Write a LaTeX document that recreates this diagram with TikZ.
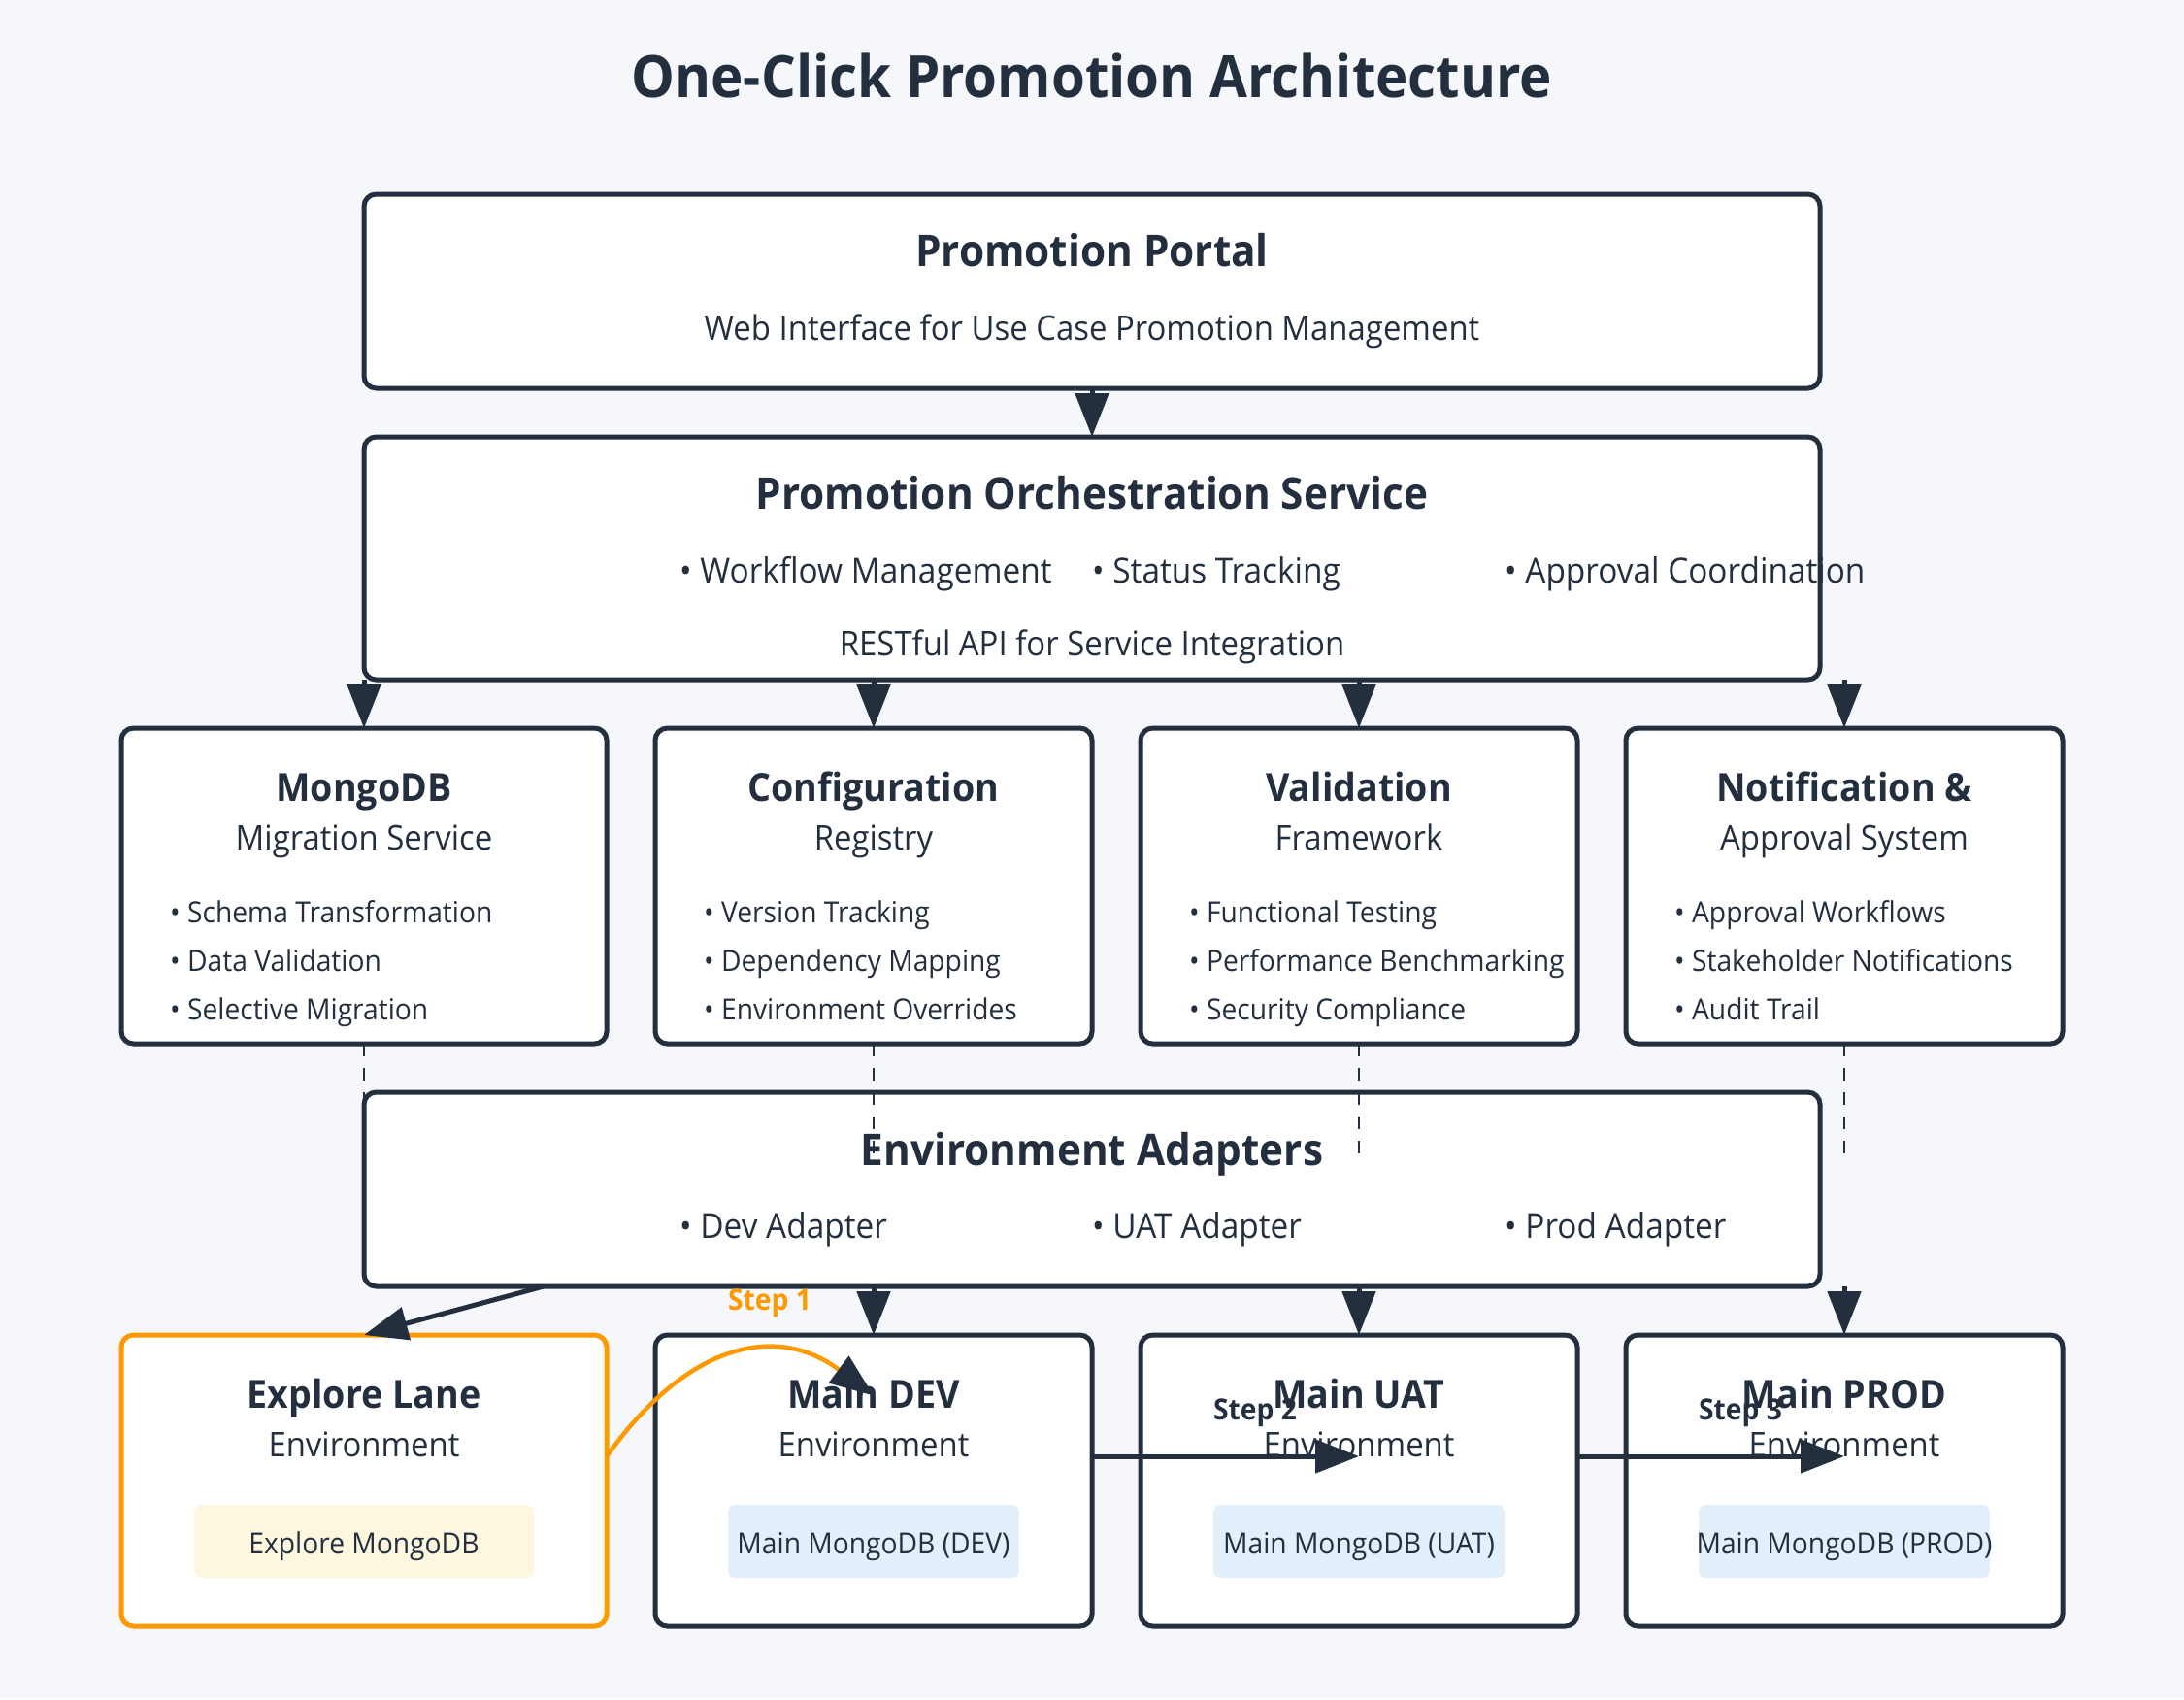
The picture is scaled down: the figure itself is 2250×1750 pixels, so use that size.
\documentclass[tikz,border=0pt]{standalone}
\usepackage{fontspec}
\setmainfont{Open Sans}[FakeStretch=0.94]
\usetikzlibrary{arrows.meta,calc}
\definecolor{bg}{HTML}{F5F7FA}
\definecolor{ink}{HTML}{232F3E}
\definecolor{aorange}{HTML}{FF9900}
\definecolor{pillY}{HTML}{FEF7E0}
\definecolor{pillB}{HTML}{E3F0FB}
\begin{document}
\begin{tikzpicture}[x=1pt,y=-1pt,
 box/.style={draw=ink, line width=5pt, fill=white, rounded corners=12.5pt, inner sep=0pt, outer sep=0pt},
 obox/.style={box, draw=aorange},
 pill/.style={rounded corners=7.5pt, inner sep=0pt, outer sep=0pt, minimum height=75pt},
 bigttl/.style={font=\fontsize{45}{54}\selectfont\bfseries, text=ink, anchor=base, inner sep=0pt},
 ttl/.style={font=\fontsize{40}{48}\selectfont\bfseries, text=ink, anchor=base, inner sep=0pt},
 sub/.style={font=\fontsize{35}{42}\selectfont, text=ink, anchor=base, inner sep=0pt},
 bul/.style={font=\fontsize{35.5}{42}\selectfont, text=ink, anchor=base west, inner sep=0pt},
 itm/.style={font=\fontsize{30}{36}\selectfont, text=ink, anchor=base west, inner sep=0pt},
 pilltxt/.style={font=\fontsize{30}{36}\selectfont, text=ink, anchor=base, inner sep=0pt},
 steplbl/.style={font=\fontsize{30}{36}\selectfont\bfseries, text=ink, anchor=base, inner sep=0pt},
 arr/.style={draw=ink, line width=5pt, -{Triangle[length=45pt,width=34pt]}},
 dsh/.style={draw=ink, line width=2.5pt, dash pattern=on 12.5pt off 12.5pt},
]
\fill[bg] (0,0) rectangle (2250,1750);
\useasboundingbox (0,0) rectangle (2250,1750);

% title
\node[font=\fontsize{60}{72}\selectfont\bfseries, text=ink, anchor=base, inner sep=0pt] (title) at (1125,101) {One-Click Promotion Architecture};

% portal
\node[box, minimum width=1500pt, minimum height=200pt] (portal) at (1125,300) {};
\node[bigttl] (portalT) at (1125,274) {Promotion Portal};
\node[sub] (portalS) at (1125,350) {Web Interface for Use Case Promotion Management};

% orchestration
\node[box, minimum width=1500pt, minimum height=250pt] (orch) at (1125,575) {};
\node[bigttl] (orchT) at (1125,524) {Promotion Orchestration Service};
\node[bul] (orchB1) at (700,600) {• Workflow Management};
\node[bul] (orchB2) at (1125,600) {• Status Tracking};
\node[bul] (orchB3) at (1550,600) {• Approval Coordination};
\node[sub] (orchS) at (1125,675) {RESTful API for Service Integration};

% layer 2
\node[box, minimum width=500pt, minimum height=325pt] (b1) at (375,912.5) {};
\node[box, minimum width=450pt, minimum height=325pt] (b2) at (900,912.5) {};
\node[box, minimum width=450pt, minimum height=325pt] (b3) at (1400,912.5) {};
\node[box, minimum width=450pt, minimum height=325pt] (b4) at (1900,912.5) {};

\node[ttl] (b1T) at (375,825) {MongoDB};
\node[sub] (b1S) at (375,875) {Migration Service};
\node[itm] (b1a) at (175,950) {• Schema Transformation};
\node[itm] (b1b) at (175,1000) {• Data Validation};
\node[itm] (b1c) at (175,1050) {• Selective Migration};

\node[ttl] (b2T) at (900,825) {Configuration};
\node[sub] (b2S) at (900,875) {Registry};
\node[itm] (b2a) at (725,950) {• Version Tracking};
\node[itm] (b2b) at (725,1000) {• Dependency Mapping};
\node[itm] (b2c) at (725,1050) {• Environment Overrides};

\node[ttl] (b3T) at (1400,825) {Validation};
\node[sub] (b3S) at (1400,875) {Framework};
\node[itm] (b3a) at (1225,950) {• Functional Testing};
\node[itm] (b3b) at (1225,1000) {• Performance Benchmarking};
\node[itm] (b3c) at (1225,1050) {• Security Compliance};

\node[ttl] (b4T) at (1900,825) {Notification \&};
\node[sub] (b4S) at (1900,875) {Approval System};
\node[itm] (b4a) at (1725,950) {• Approval Workflows};
\node[itm] (b4b) at (1725,1000) {• Stakeholder Notifications};
\node[itm] (b4c) at (1725,1050) {• Audit Trail};

% environment adapters
\node[box, minimum width=1500pt, minimum height=200pt] (env) at (1125,1225) {};
\node[bigttl] (envT) at (1125,1200) {Environment Adapters};
\node[bul] (envB1) at (700,1275) {• Dev Adapter};
\node[bul] (envB2) at (1125,1275) {• UAT Adapter};
\node[bul] (envB3) at (1550,1275) {• Prod Adapter};

% bottom environments
\node[obox, minimum width=500pt, minimum height=300pt] (e1) at (375,1525) {};
\node[box, minimum width=450pt, minimum height=300pt] (e2) at (900,1525) {};
\node[box, minimum width=450pt, minimum height=300pt] (e3) at (1400,1525) {};
\node[box, minimum width=450pt, minimum height=300pt] (e4) at (1900,1525) {};

\node[pill, fill=pillY, minimum width=350pt] (p1) at (375,1587.5) {};
\node[pill, fill=pillB, minimum width=300pt] (p2) at (900,1587.5) {};
\node[pill, fill=pillB, minimum width=300pt] (p3) at (1400,1587.5) {};
\node[pill, fill=pillB, minimum width=300pt] (p4) at (1900,1587.5) {};

\node[ttl] (e1T) at (375,1450) {Explore Lane};
\node[sub] (e1S) at (375,1500) {Environment};
\node[pilltxt] (p1T) at (375,1600) {Explore MongoDB};
\node[ttl] (e2T) at (900,1450) {Main DEV};
\node[sub] (e2S) at (900,1500) {Environment};
\node[pilltxt] (p2T) at (900,1600) {Main MongoDB (DEV)};
\node[ttl] (e3T) at (1400,1450) {Main UAT};
\node[sub] (e3S) at (1400,1500) {Environment};
\node[pilltxt] (p3T) at (1400,1600) {Main MongoDB (UAT)};
\node[ttl] (e4T) at (1900,1450) {Main PROD};
\node[sub] (e4S) at (1900,1500) {Environment};
\node[pilltxt] (p4T) at (1900,1600) {Main MongoDB (PROD)};

% arrows
\draw[arr] (portal.south) -- (orch.north);
\draw[arr] (orch.south -| b1.north) -- (b1.north);
\draw[arr] (orch.south -| b2.north) -- (b2.north);
\draw[arr] (orch.south -| b3.north) -- (b3.north);
\draw[arr] (orch.south -| b4.north) -- (b4.north);

% dashed links
\coordinate (d1) at (375,1187.5);
\coordinate (d2) at (900,1187.5);
\coordinate (d3) at (1400,1187.5);
\coordinate (d4) at (1900,1187.5);
\draw[dsh] (b1.south) -- (d1);
\draw[dsh] (b2.south) -- (d2);
\draw[dsh] (b3.south) -- (d3);
\draw[dsh] (b4.south) -- (d4);

\coordinate (envOut) at ($(env.south west)+(185,0)$);
\draw[arr] (envOut) -- (e1.north);
\draw[arr] (env.south -| e2.north) -- (e2.north);
\draw[arr] (env.south -| e3.north) -- (e3.north);
\draw[arr] (env.south -| e4.north) -- (e4.north);

% steps
\coordinate (s1a) at ($(e1.east)+(0,-25)$);
\coordinate (s1b) at ($(e2.center)+(0,-87.5)$);
\draw[draw=aorange, line width=4.5pt, -{Triangle[length=45pt,width=34pt,color=ink]}]
  (s1a) .. controls (708.3,1383.3) and (800,1362.5) .. (s1b);
\draw[arr] ($(e2.east)+(0,-25)$) -- ($(e3.center)+(0,-25)$);
\draw[arr] ($(e3.east)+(0,-25)$) -- ($(e4.center)+(0,-25)$);

\node[steplbl, text=aorange] (st1) at (793,1349) {Step 1};
\node[steplbl] (st2) at (1293,1462) {Step 2};
\node[steplbl] (st3) at (1793,1462) {Step 3};
\end{tikzpicture}
\end{document}
